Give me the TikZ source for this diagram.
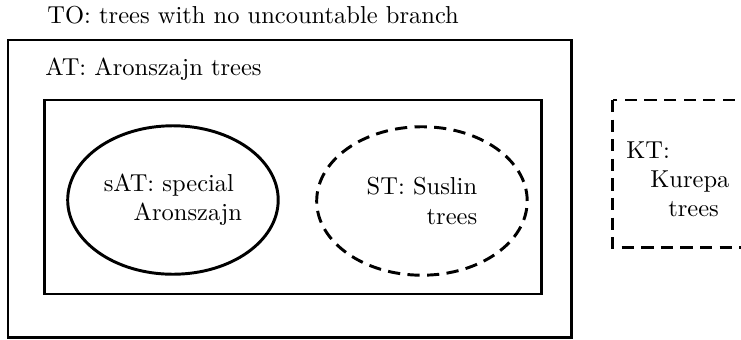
\documentclass[tikz,border=0pt]{standalone}
\usepackage{amsmath}
\usetikzlibrary{positioning, shapes, arrows.meta, calc}

\tikzset{
  setline/.style={draw, very thick},
  dashset/.style={draw, very thick, dash pattern=on 5pt off 3pt},
  settext/.style={inner sep=0pt},
  subset/.style={ellipse, inner sep=0pt, minimum width=3.02cm, minimum height=2.13cm}
}

\begin{document}
\begin{tikzpicture}
                  \useasboundingbox (0,0) rectangle (10.63,-4.877);
                  % Boxes
                  \draw[setline] (0.115,-0.574) rectangle (8.204,-4.848);
                  \draw[setline] (0.645,-1.434) rectangle (7.774,-4.217);
                  \draw[dashset] (8.792,-1.434) rectangle (11.2,-3.557);

                  % Nodes
                  \node[settext, anchor=base west] (to) at (0.674,-0.344) {TO: trees with no uncountable branch};
                  \node[settext, anchor=base west] (at) at (0.645,-1.076) {AT: Aronszajn trees};
                  \node[subset, setline, align=left] (sat) at (2.481,-2.869) {sAT: special\\\hspace*{12.2pt}Aronszajn};
                  \node[subset, dashset, align=right] (st) at (6.053,-2.883) {ST: Suslin\\trees};
                  \node[settext, anchor=north west, align=left] (kt) at (8.979,-2.022) {KT:\\\hspace*{9.8pt}Kurepa\\\hspace*{17.1pt}trees};
              \end{tikzpicture}
\end{document}
